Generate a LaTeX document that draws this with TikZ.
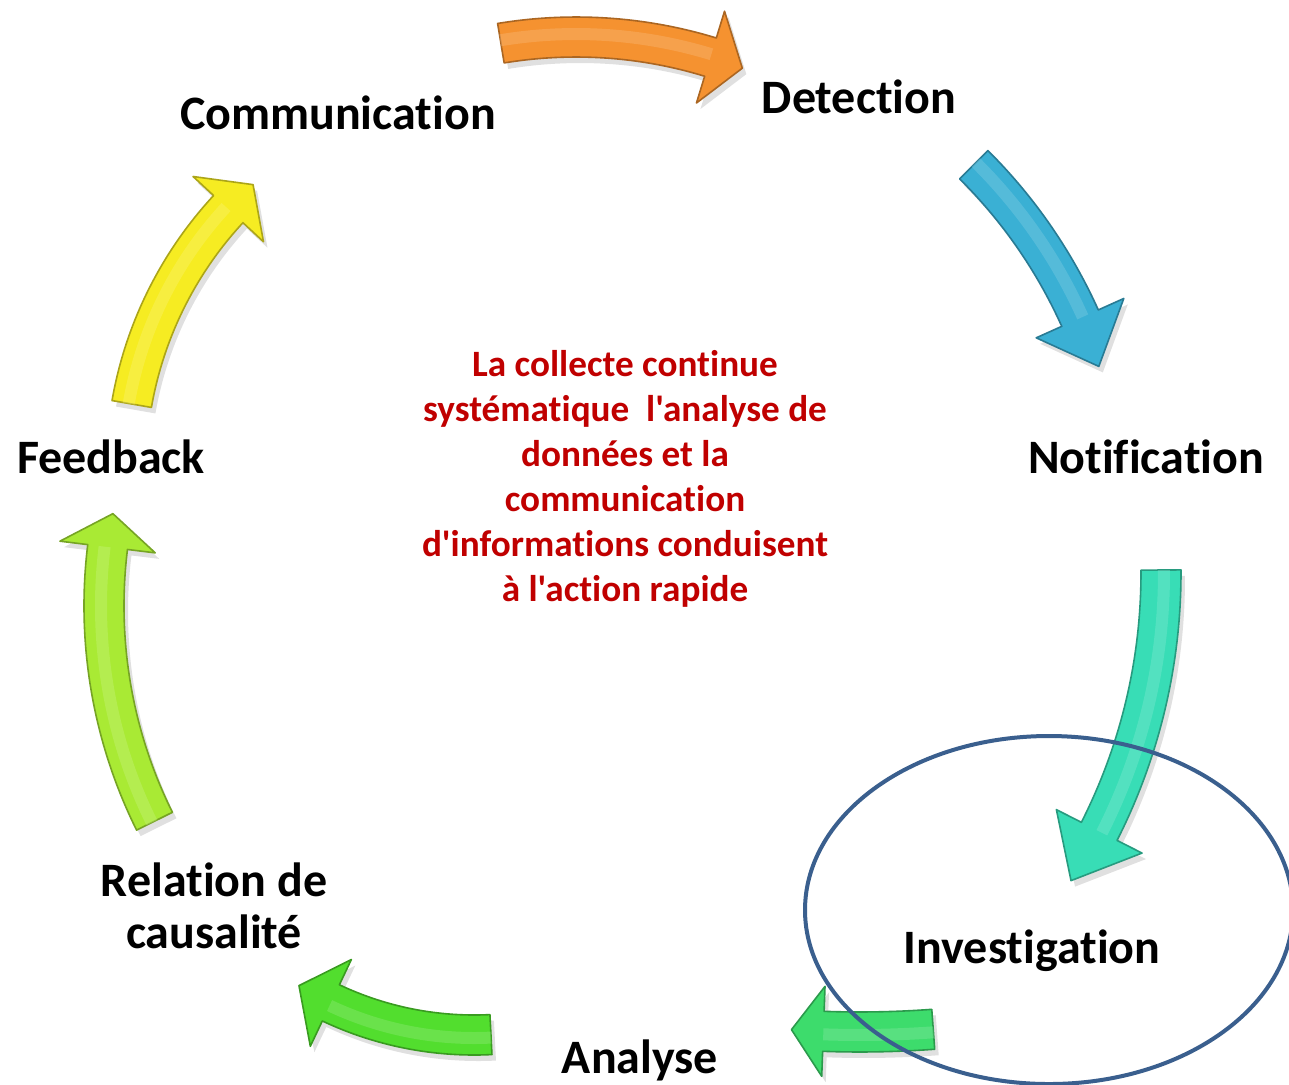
\documentclass[tikz,border=0pt]{standalone}
\usepackage{fontspec}
\setmainfont{Carlito}[Ligatures={TeXOff,CommonOff}]
\definecolor{arOrange}{HTML}{F59230}
\definecolor{arBlue}{HTML}{3AB0D4}
\definecolor{arTeal}{HTML}{38DDB6}
\definecolor{arGreen}{HTML}{3DDC6C}
\definecolor{arGrass}{HTML}{52DE2E}
\definecolor{arLime}{HTML}{A9EA34}
\definecolor{arYellow}{HTML}{F6EC22}
\definecolor{noteRed}{HTML}{C00000}
\definecolor{ringBlue}{HTML}{3A5F8E}
\tikzset{
  lbl/.style={font=\fontsize{24}{26}\selectfont\bfseries, text=black, inner sep=0pt, align=center},
  note/.style={font=\fontsize{18.6}{22.5}\selectfont\bfseries, text=noteRed, inner sep=0pt, align=center},
  ring/.style={draw=ringBlue, line width=2pt}
}
% Curved block arrow along a circular arc, running clockwise.
% #1,#2 arc centre; #3 mid radius; #4 tail angle; #5 angle of the head base;
% #6 angular length of the head; #7 half width of the head; #8 colour
\newcommand{\cyclearrow}[8]{%
  \begin{scope}[shift={(#1,#2)}]
    \pgfmathsetmacro{\ro}{#3+20}%
    \pgfmathsetmacro{\ri}{#3-20}%
    \pgfmathsetmacro{\ho}{#3+#7}%
    \pgfmathsetmacro{\hi}{#3-#7}%
    \pgfmathsetmacro{\tp}{#5-#6}%
    \def\arrowoutline{(#4:\ro) arc[start angle=#4, end angle=#5, radius=\ro]
      -- (#5:\ho) -- (\tp:#3) -- (#5:\hi) -- (#5:\ri)
      arc[start angle=#5, end angle=#4, radius=\ri] -- cycle}%
    \fill[black, opacity=.12, shift={(4,-6)}] \arrowoutline;
    \filldraw[fill=#8, draw=#8!70!black, line width=.8pt, line join=round] \arrowoutline;
    \draw[#8!60!white, opacity=.35, line width=6pt]
      (#4:#3+3) arc[start angle=#4, end angle=#5, radius=#3+3];
  \end{scope}}
\begin{document}
\begin{tikzpicture}[x=0.5pt, y=0.5pt]
  \useasboundingbox (0,0) rectangle (1289,-1084);
  \clip (0,0) rectangle (1289,-1084);
  \fill[white] (0,0) rectangle (1289,-1084);

  % the seven arrows of the cycle
  \cyclearrow{576}{-497}{460}{99.4}{73.0}{4.2}{48}{arOrange}
  \cyclearrow{613}{-528}{512}{45.2}{24.2}{5.8}{48}{arBlue}
  \cyclearrow{590}{-573}{571}{0.3}{-26.9}{5.7}{48}{arTeal}
  \cyclearrow{860}{-32}{1000}{-85.8}{-92.1}{1.83}{45}{arGreen}
  \cyclearrow{474}{-700}{335}{-87.1}{-115.3}{6.2}{48}{arGrass}
  \cyclearrow{588}{-606}{484}{206.4}{173.0}{4.0}{48}{arLime}
  \cyclearrow{510}{-470}{384}{170.1}{137.2}{5.2}{48}{arYellow}

  % stage labels
  \node[lbl] (comm)  at (338,-113) {Communication};
  \node[lbl] (detec) at (859,-97)  {Detection};
  \node[lbl] (notif) at (1146,-457) {Notification};
  \node[lbl] (inves) at (1032,-951) {Investigation};
  \node[lbl] (analy) at (640,-1060) {Analyse};
  \node[lbl] (causa) at (214,-906) {Relation de\\causalité};
  \node[lbl] (feedb) at (111,-457) {Feedback};

  % central statement
  \node[note] (cycle) at (625,-479) {La collecte continue\\systématique\ \ l'analyse de\\données et la\\communication\\d'informations conduisent\\à l'action rapide};

  % ring around the investigation stage
  \draw[ring] (1049,-910) ellipse[x radius=244, y radius=174];
\end{tikzpicture}
\end{document}
